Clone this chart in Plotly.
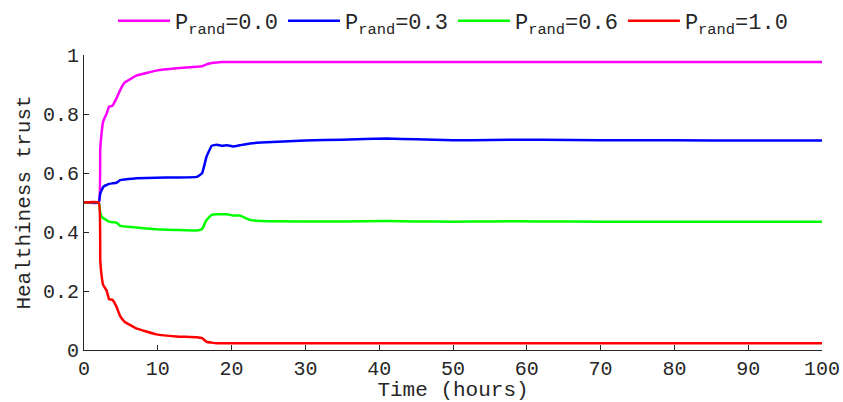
import plotly.graph_objects as go

t = [0, 2, 2.2, 2.4, 2.6, 2.85, 3.05, 3.4, 3.85, 4.4, 4.9, 5.5, 7.1, 9.8, 12.5, 15.3, 16.0, 16.6,
     17.3, 18.0, 18.7, 19.4, 20.2, 21.1, 22.5, 24, 30, 35, 41, 45, 50, 55, 62, 70, 80, 90, 100]

p00 = [0.5, 0.5, 0.68, 0.74, 0.775, 0.79, 0.80, 0.825, 0.828, 0.853, 0.881, 0.906, 0.930, 0.947,
       0.955, 0.960, 0.962, 0.968, 0.973, 0.975, 0.976, 0.976, 0.976, 0.976, 0.976, 0.976, 0.976,
       0.976, 0.976, 0.976, 0.976, 0.976, 0.976, 0.976, 0.976, 0.976, 0.976]

p03 = [0.5, 0.5, 0.53, 0.542, 0.552, 0.557, 0.559, 0.563, 0.565, 0.567, 0.576, 0.578, 0.582, 0.584,
       0.585, 0.587, 0.599, 0.655, 0.692, 0.696, 0.692, 0.694, 0.690, 0.694, 0.700, 0.703, 0.710,
       0.713, 0.717, 0.714, 0.711, 0.712, 0.713, 0.711, 0.711, 0.710, 0.710]

p06 = [0.5, 0.5, 0.465, 0.452, 0.447, 0.444, 0.440, 0.435, 0.433, 0.432, 0.421, 0.419, 0.415, 0.409,
       0.407, 0.405, 0.410, 0.441, 0.458, 0.460, 0.460, 0.460, 0.456, 0.456, 0.441, 0.437, 0.436,
       0.436, 0.437, 0.436, 0.435, 0.436, 0.436, 0.435, 0.435, 0.435, 0.435]

p10 = [0.5, 0.5, 0.305, 0.249, 0.22, 0.21, 0.203, 0.172, 0.17, 0.147, 0.115, 0.096, 0.073, 0.053,
       0.046, 0.043, 0.040, 0.028, 0.025, 0.023, 0.023, 0.023, 0.023, 0.023, 0.023, 0.023, 0.023,
       0.023, 0.023, 0.023, 0.023, 0.023, 0.023, 0.023, 0.023, 0.023, 0.023]

names = ["P<sub>rand</sub>=0.0", "P<sub>rand</sub>=0.3", "P<sub>rand</sub>=0.6", "P<sub>rand</sub>=1.0"]
colors = ["#ff00ff", "#0000ff", "#00ff00", "#ff0000"]
series = [p00, p03, p06, p10]

x_ticks = [0, 10, 20, 30, 40, 50, 60, 70, 80, 90, 100]
y_ticks = [0, 0.2, 0.4, 0.6, 0.8, 1]
y_ticklabels = ["0", "0.2", "0.4", "0.6", "0.8", "1"]

FONT = "Liberation Mono, Courier New, monospace"
FS = 21
TFS = 20

fig = go.Figure()
for name, col, ys in zip(names, colors, series):
    fig.add_trace(go.Scatter(x=t, y=ys, mode="lines", name=name,
                             line=dict(color=col, width=2.5, shape="spline", smoothing=0.3)))

axis_common = dict(showline=True, linecolor="#262626", linewidth=1, ticks="inside", ticklen=5,
                   tickcolor="#262626", showgrid=False, zeroline=False, mirror=False,
                   automargin=False,
                   tickfont=dict(family=FONT, size=TFS, color="#262626"))

fig.update_layout(
    width=843, height=402,
    margin=dict(l=84, r=21, t=55, b=52),
    paper_bgcolor="white", plot_bgcolor="white",
    font=dict(family=FONT, size=FS, color="#262626"),
    showlegend=True,
    legend=dict(orientation="h", x=0.5, xanchor="center", xref="paper",
                y=1.0, yanchor="top", yref="container",
                font=dict(family=FONT, size=FS + 1, color="#262626"), bgcolor="rgba(0,0,0,0)",
                itemwidth=52, tracegroupgap=0),
)
fig.update_xaxes(range=[0, 100], tickvals=x_ticks, ticktext=[str(v) for v in x_ticks],
                 title=dict(text="Time (hours)", standoff=4, font=dict(family=FONT, size=FS)),
                 **axis_common)
fig.update_yaxes(range=[0, 1], tickvals=y_ticks, ticktext=y_ticklabels,
                 title=dict(text="Healthiness trust", standoff=6, font=dict(family=FONT, size=FS)),
                 **axis_common)

fig.write_html("out.html")
